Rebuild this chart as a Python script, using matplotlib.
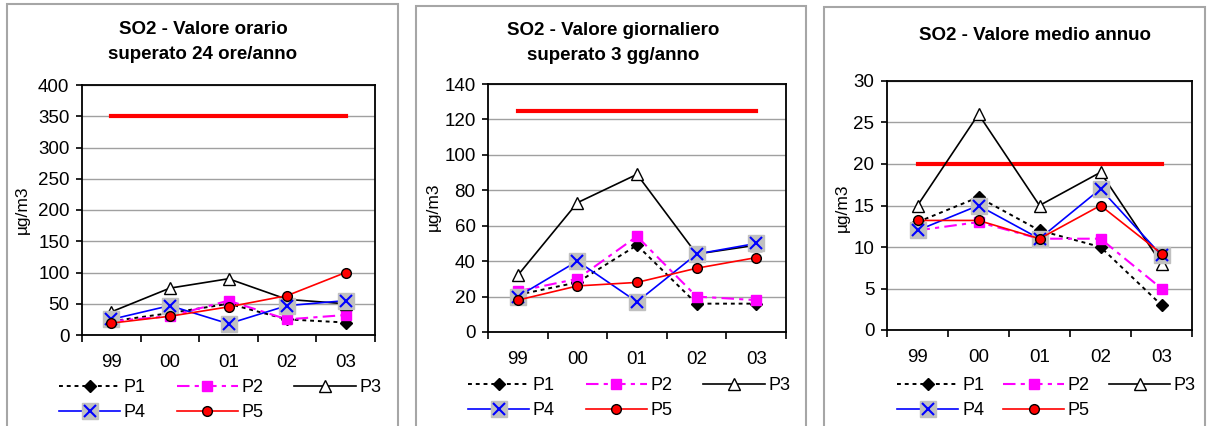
import matplotlib.pyplot as plt
from matplotlib.patches import Rectangle
from matplotlib.legend_handler import HandlerTuple

plt.rcParams['font.family'] = ['Liberation Sans', 'DejaVu Sans']

years = ['99', '00', '01', '02', '03']

# panel 1: valore orario superato 24 ore/anno
h_p1 = [22, 35, 50, 25, 20]
h_p2 = [22, 30, 55, 25, 32]
h_p3 = [37, 75, 90, 57, 50]
h_p4 = [25, 47, 18, 47, 55]
h_p5 = [19, 30, 45, 63, 100]
h_lim = 350

# panel 2: valore giornaliero superato 3 gg/anno
d_p1 = [21, 28, 49, 16, 16]
d_p2 = [23, 30, 54, 20, 18]
d_p3 = [32, 73, 89, 44, 49]
d_p4 = [20, 40, 17, 44, 50]
d_p5 = [18, 26, 28, 36, 42]
d_lim = 125

# panel 3: valore medio annuo
a_p1 = [13, 16, 12, 10, 3]
a_p2 = [12, 13, 11, 11, 5]
a_p3 = [15, 26, 15, 19, 8]
a_p4 = [12, 15, 11, 17, 9]
a_p5 = [13.2, 13.2, 11, 15, 9.2]
a_lim = 20

W, H = 1207, 426
fig = plt.figure(figsize=(W / 100, H / 100), dpi=100)


def px(x0, y0, x1, y1):
    # pixel box -> figure fraction rect
    return [x0 / W, 1 - y1 / H, (x1 - x0) / W, (y1 - y0) / H]


panels = [
    dict(box=(7, 4, 398), ax=(82, 85, 375, 335), title='SO2 - Valore orario\nsuperato 24 ore/anno',
         tx=203, ty=42, ylx=22, yly=210, ymax=400, ystep=50, lim=h_lim,
         data=[h_p1, h_p2, h_p3, h_p4, h_p5], leg=(59, 400), cs=1.7),
    dict(box=(416, 6, 806), ax=(488, 84, 786, 332), title='SO2 - Valore giornaliero\nsuperato 3 gg/anno',
         tx=613, ty=43, ylx=433, yly=207, ymax=140, ystep=20, lim=d_lim,
         data=[d_p1, d_p2, d_p3, d_p4, d_p5], leg=(468, 398), cs=1.7),
    dict(box=(824, 7, 1205), ax=(887, 81, 1192, 330), title='SO2 - Valore medio annuo',
         tx=1035, ty=36, ylx=842, yly=208, ymax=30, ystep=5, lim=a_lim,
         data=[a_p1, a_p2, a_p3, a_p4, a_p5], leg=(897, 398), cs=1.05),
]

xs = list(range(len(years)))

for p in panels:
    bx0, by0, bx1 = p['box']
    fig.patches.append(Rectangle((bx0 / W, -0.05), (bx1 - bx0) / W, 1 - by0 / H + 0.05,
                                 transform=fig.transFigure, fill=False,
                                 edgecolor='#a6a6a6', lw=1.5))
    ax = fig.add_axes(px(*p['ax']))
    p1, p2, p3, p4, p5 = p['data']

    ax.plot([0, 4], [p['lim'], p['lim']], color='#ff0000', lw=3, zorder=2)
    l1, = ax.plot(xs, p1, color='black', ls=(0, (2, 2)), lw=1.4, marker='D', ms=6,
                  mfc='black', mec='black', zorder=3)
    l2, = ax.plot(xs, p2, color='#ff00ff', ls=(0, (6, 2.5, 2, 2.5)), lw=1.5, marker='s', ms=7,
                  mfc='#ff00ff', mec='#ff00ff', zorder=3)
    l3, = ax.plot(xs, p3, color='black', lw=1.2, marker='^', ms=8,
                  mfc='white', mec='black', zorder=4)
    l4a, = ax.plot(xs, p4, color='#0000ff', lw=1.2, marker='s', ms=11,
                   mfc='#c0c0c0', mec='#c0c0c0', zorder=5)
    l4b, = ax.plot(xs, p4, ls='none', marker='x', ms=9, mew=1.5, mec='#0000ff', zorder=6)
    l5, = ax.plot(xs, p5, color='#ff0000', lw=1.2, marker='o', ms=7,
                  mfc='#ff0000', mec='black', zorder=7)

    ax.set_xlim(-0.5, 4.5)
    ax.set_ylim(0, p['ymax'])
    ax.set_yticks(range(0, p['ymax'] + 1, p['ystep']))
    ax.set_xticks([i - 0.5 for i in range(6)])
    ax.set_xticklabels([])
    ax.set_xticks(xs, minor=True)
    ax.set_xticklabels(years, minor=True)
    ax.tick_params(axis='x', which='major', length=5, width=1.2, direction='out')
    ax.tick_params(axis='x', which='minor', length=0, pad=14, labelsize=13.5)
    ax.tick_params(axis='y', length=4, width=1.2, direction='out', labelsize=13.5, pad=5)
    ax.yaxis.grid(True, color='#a0a0a0', lw=1)
    ax.set_axisbelow(True)
    for s in ax.spines.values():
        s.set_linewidth(1.3)

    fig.text(p['tx'] / W, 1 - p['ty'] / H, p['title'], ha='center', va='center',
             fontsize=13.5, fontweight='bold', linespacing=1.55)
    fig.text(p['ylx'] / W, 1 - p['yly'] / H, 'µg/m3', rotation=90, ha='center', va='center',
             fontsize=12.5)

    handles = [l1, (l4a, l4b), l2, l5, l3]
    labels = ['P1', 'P4', 'P2', 'P5', 'P3']
    lx, ly = p['leg']
    fig.legend(handles, labels, loc='center left', bbox_to_anchor=(lx / W, 1 - ly / H),
               ncol=3, frameon=False, fontsize=13, handlelength=3.4, handletextpad=0.2,
               columnspacing=p['cs'], labelspacing=0.45, borderpad=0, borderaxespad=0,
               handler_map={tuple: HandlerTuple(ndivide=1, pad=0)})

plt.savefig('out.png', dpi=100)
